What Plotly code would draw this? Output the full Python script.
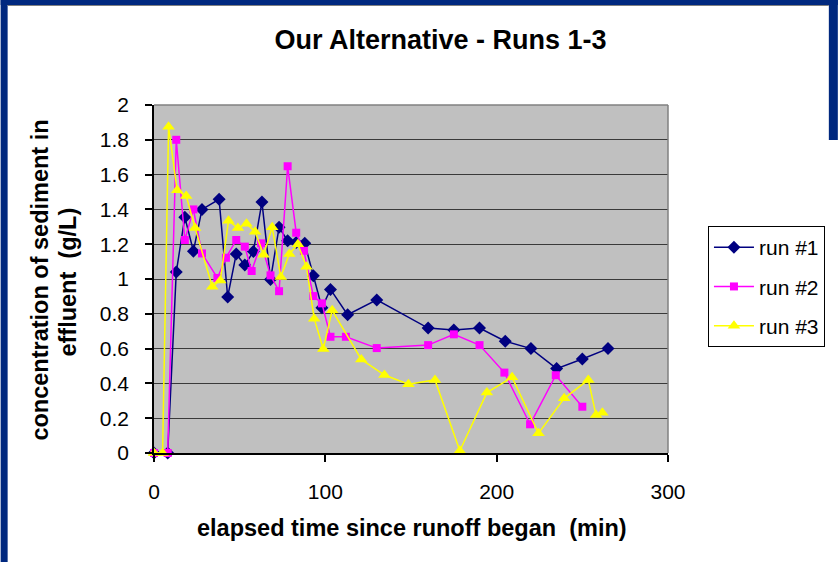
import plotly.graph_objects as go

# ---- data ----
run1_t = [0, 8, 13, 18, 23, 28, 38, 43, 48, 53, 58, 63, 68, 73, 78, 83, 88, 93, 98, 103, 113, 130, 160, 175, 190, 205, 220, 235, 250, 265]
run1_v = [0, 0, 1.04, 1.355, 1.16, 1.40, 1.458, 0.897, 1.144, 1.08, 1.158, 1.442, 0.997, 1.297, 1.22, 1.21, 1.205, 1.018, 0.835, 0.94, 0.795, 0.88, 0.718, 0.707, 0.718, 0.642, 0.60, 0.485, 0.54, 0.60]

run2_t = [0, 8, 13, 18, 23, 28, 37, 42, 48, 53, 57, 62.5, 68, 73, 78, 83, 87.5, 93, 98, 103, 112, 130, 160, 175, 190, 204.5, 219.5, 234.5, 250]
run2_v = [0, 0, 1.80, 1.224, 1.40, 1.147, 1.006, 1.122, 1.224, 1.186, 1.046, 1.205, 1.021, 0.93, 1.648, 1.266, 1.162, 0.902, 0.86, 0.668, 0.668, 0.603, 0.62, 0.682, 0.62, 0.462, 0.165, 0.447, 0.266]

run3_t = [0, 5, 8.5, 13.5, 18.8, 24, 34, 38.7, 43.5, 49, 54, 59, 64, 69, 74, 79, 84, 89, 93.5, 98.8, 104, 121, 134.5, 148.5, 164, 178.5, 194.3, 209, 224.4, 239.4, 253.5, 258, 261.7]
run3_v = [0, 0, 1.875, 1.51, 1.477, 1.293, 0.956, 0.992, 1.335, 1.293, 1.318, 1.272, 1.14, 1.297, 1.012, 1.144, 1.20, 1.07, 0.772, 0.598, 0.82, 0.538, 0.448, 0.395, 0.42, 0.013, 0.347, 0.435, 0.113, 0.314, 0.42, 0.218, 0.232]

x_ticks = [0, 100, 200, 300]
y_ticks = [0, 0.2, 0.4, 0.6, 0.8, 1, 1.2, 1.4, 1.6, 1.8, 2]
y_tick_text = ["0", "0.2", "0.4", "0.6", "0.8", "1", "1.2", "1.4", "1.6", "1.8", "2"]

FONT = "Liberation Sans, Arial, sans-serif"
W, H = 838, 562
PL, PR, PT, PB = 153.5, 668, 105, 453  # plot area in pixels


def px(x):
    return (x - PL) / (PR - PL)


def py(y):
    return (PB - y) / (PB - PT)


fig = go.Figure()
series = [
    ("run #1", run1_t, run1_v, "#000080", "diamond", 10),
    ("run #2", run2_t, run2_v, "#FF00FF", "square", 8),
    ("run #3", run3_t, run3_v, "#FFFF00", "triangle-up", 11),
]
for name, t, v, col, sym, sz in series:
    fig.add_trace(go.Scatter(
        x=t, y=v, name=name, mode="lines+markers", legendgroup=name,
        line=dict(color=col, width=1.5),
        marker=dict(symbol=sym, size=sz, color=col, line=dict(color=col, width=0)),
        cliponaxis=False,
    ))

shapes = [
    # blue frame
    dict(type="rect", xref="paper", yref="paper", x0=px(0), x1=px(7), y0=py(H), y1=py(0),
         fillcolor="#00287F", line=dict(width=0), layer="above"),
    dict(type="rect", xref="paper", yref="paper", x0=px(0), x1=px(W), y0=py(5), y1=py(0),
         fillcolor="#00287F", line=dict(width=0), layer="above"),
    dict(type="rect", xref="paper", yref="paper", x0=px(829), x1=px(W), y0=py(140), y1=py(0),
         fillcolor="#00287F", line=dict(width=0), layer="above"),
    dict(type="line", xref="paper", yref="paper", x0=px(7), x1=px(829), y0=py(5.5), y1=py(5.5),
         line=dict(color="#808080", width=1), layer="above"),
    # plot area border (top/right grey)
    dict(type="line", xref="paper", yref="paper", x0=0, x1=1, y0=1, y1=1,
         line=dict(color="#808080", width=1.5), layer="above"),
    dict(type="line", xref="paper", yref="paper", x0=1, x1=1, y0=0, y1=1,
         line=dict(color="#808080", width=1.5), layer="above"),
]

annotations = [
    dict(text="<b>concentration of sediment in</b>", xref="paper", yref="paper",
         x=px(39), y=py(280), textangle=-90, showarrow=False,
         font=dict(family=FONT, size=23.5, color="black"), xanchor="center", yanchor="middle"),
    dict(text="<b>effluent  (g/L)</b>", xref="paper", yref="paper",
         x=px(67), y=py(282), textangle=-90, showarrow=False,
         font=dict(family=FONT, size=23.5, color="black"), xanchor="center", yanchor="middle"),
    dict(text="<b>elapsed time since runoff began  (min)</b>", xref="paper", yref="paper",
         x=px(412), y=py(528), showarrow=False,
         font=dict(family=FONT, size=23.5, color="black"), xanchor="center", yanchor="middle"),
]

fig.update_layout(
    width=W, height=H, autosize=False,
    margin=dict(l=PL, r=W - PR, t=PT, b=H - PB, pad=0),
    paper_bgcolor="white", plot_bgcolor="#C0C0C0",
    title=dict(text="<b>Our Alternative - Runs 1-3</b>", x=px(424), xanchor="center",
               y=1 - 40 / H, yanchor="middle",
               font=dict(family=FONT, size=27, color="black")),
    font=dict(family=FONT, size=20, color="black"),
    showlegend=True,
    legend=dict(x=px(708), y=py(226), xanchor="left", yanchor="top",
                bgcolor="white", bordercolor="black", borderwidth=1,
                font=dict(family=FONT, size=21, color="black"),
                tracegroupgap=9, itemwidth=40),
    shapes=shapes,
    annotations=annotations,
)
fig.update_xaxes(range=[0, 300], tickvals=x_ticks, ticktext=[str(v) for v in x_ticks],
                 showgrid=False, zeroline=False, showline=True, linecolor="black", linewidth=1.5,
                 ticks="outside", ticklen=7, tickcolor="black", tickwidth=1.5,
                 ticklabelstandoff=12, tickfont=dict(family=FONT, size=21, color="black"))
fig.update_yaxes(range=[0, 2], tickvals=y_ticks, ticktext=y_tick_text,
                 showgrid=True, gridcolor="#3A3A3A", gridwidth=1.2, zeroline=False,
                 showline=True, linecolor="black", linewidth=1.5,
                 ticks="outside", ticklen=7, tickcolor="black", tickwidth=1.5,
                 ticklabelstandoff=12, tickfont=dict(family=FONT, size=21, color="black"))

fig.write_html("out.html", config={"displayModeBar": False},
               post_script="document.body.style.margin='0';document.body.style.overflow='hidden';")
